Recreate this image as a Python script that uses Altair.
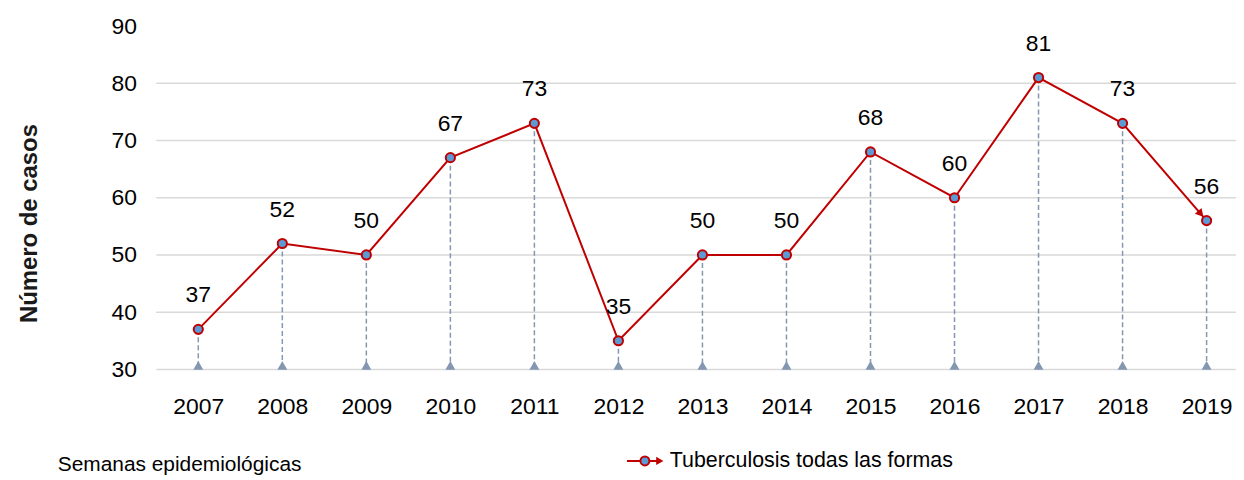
import math
import altair as alt
import pandas as pd

years = [2007, 2008, 2009, 2010, 2011, 2012, 2013, 2014, 2015, 2016, 2017, 2018, 2019]
cases = [37, 52, 50, 67, 73, 35, 50, 50, 68, 60, 81, 73, 56]
y_ticks = [30, 40, 50, 60, 70, 80, 90]
grid_vals = [30, 40, 50, 60, 70, 80]
series_name = "Tuberculosis todas las formas"
x_caption = "Semanas epidemiológicas"
y_title = "Número de casos"

NARROW = "Liberation Sans, Arial, sans-serif"
BOLD = "Liberation Sans, Arial, sans-serif"
RED = "#c00000"
BLUE = "#5b9bd5"
DROP = "#8497b0"
GRID = "#d9d9d9"

W, H = 1085, 345
X_DOM = [2006.5, 2019.35]
Y_DOM = [30, 90]

df = pd.DataFrame({"year": years, "cases": cases})
grid_df = pd.DataFrame({"g": grid_vals})

# arrow direction on last segment, from the scales' pixel ratios
px_x = W / (X_DOM[1] - X_DOM[0])
px_y = H / (Y_DOM[1] - Y_DOM[0])
dx = (years[-1] - years[-2]) * px_x
dy = (cases[-2] - cases[-1]) * px_y
ang = math.degrees(math.atan2(dy, dx))
back = 9

x_scale = alt.Scale(domain=X_DOM, nice=False, zero=False)
y_scale = alt.Scale(domain=Y_DOM, nice=False, zero=False)

x_enc = alt.X("year:Q", scale=x_scale,
              axis=alt.Axis(values=years, format="d", title=None, grid=False, domain=False,
                            ticks=False, tickSize=0, labelFont=NARROW, labelFontSize=23,
                            labelColor="black", labelPadding=26, labelFlush=False))
y_enc = alt.Y("cases:Q", scale=y_scale,
              axis=alt.Axis(values=y_ticks, title=y_title, grid=False,
                            domain=False, ticks=False, tickSize=0,
                            labelFont=NARROW, labelFontSize=23, labelColor="black",
                            labelPadding=20,
                            titleFont=BOLD, titleFontSize=24, titleFontWeight="bold",
                            titleColor="#1a1a1a", titleAngle=-90, titleX=-127, titleY=198,
                            titleAlign="center", titleBaseline="middle"))

grid = alt.Chart(grid_df).mark_rule(color=GRID, strokeWidth=1.5).encode(
    y=alt.Y("g:Q", scale=y_scale), x=alt.value(0), x2=alt.value(W))

base = alt.Chart(df)

drops = base.mark_rule(color=DROP, strokeWidth=1.5, strokeDash=[5, 3]).encode(
    x=x_enc, y=y_enc, y2=alt.datum(30))
tris = base.mark_point(shape="triangle-up", filled=True, color=DROP, size=100,
                       opacity=1, yOffset=-4).encode(x=x_enc, y=alt.datum(30))
line = base.mark_line(color=RED, strokeWidth=2).encode(x=x_enc, y=y_enc)
arrow = base.transform_filter(alt.datum.year == years[-1]).mark_point(
    shape="triangle-right", filled=True, color=RED, size=80, opacity=1, angle=ang,
    xOffset=-math.cos(math.radians(ang)) * back,
    yOffset=-math.sin(math.radians(ang)) * back).encode(x=x_enc, y=y_enc)
pts = base.mark_circle(fill=BLUE, stroke=RED, strokeWidth=2, size=85, opacity=1).encode(
    x=x_enc, y=y_enc)
labels = base.mark_text(dy=-34, font=NARROW, fontSize=23, color="black").encode(
    x=x_enc, y=y_enc, text=alt.Text("cases:Q"))

leg_df = pd.DataFrame({"t": [series_name]})
leg = alt.Chart(leg_df)
leg_line = leg.mark_rule(color=RED, strokeWidth=2).encode(
    x=alt.value(473), x2=alt.value(506), y=alt.value(437))
leg_arrow = leg.mark_point(shape="triangle-right", filled=True, color=RED, size=70,
                           opacity=1).encode(x=alt.value(506), y=alt.value(437))
leg_pt = leg.mark_circle(fill=BLUE, stroke=RED, strokeWidth=2, size=80, opacity=1).encode(
    x=alt.value(491), y=alt.value(437))
leg_txt = leg.mark_text(align="left", baseline="middle", font=NARROW, fontSize=21.5,
                        color="black").encode(x=alt.value(516), y=alt.value(437), text="t:N")

cap_df = pd.DataFrame({"t": [x_caption]})
cap = alt.Chart(cap_df).mark_text(align="left", baseline="middle", font=NARROW, fontSize=21,
                                  color="black").encode(x=alt.value(-99), y=alt.value(441),
                                                        text="t:N")

chart = alt.layer(grid, drops, tris, line, arrow, pts, labels, leg_line, leg_arrow, leg_pt,
                  leg_txt, cap).resolve_scale(y="shared").properties(
    width=W, height=H,
    background="white",
    autosize=alt.AutoSizeParams(type="none"),
    padding={"left": 149, "top": 17, "right": 0, "bottom": 110},
).configure_view(stroke=None)

chart.save("out.html", embed_options={"renderer": "svg", "actions": False})
